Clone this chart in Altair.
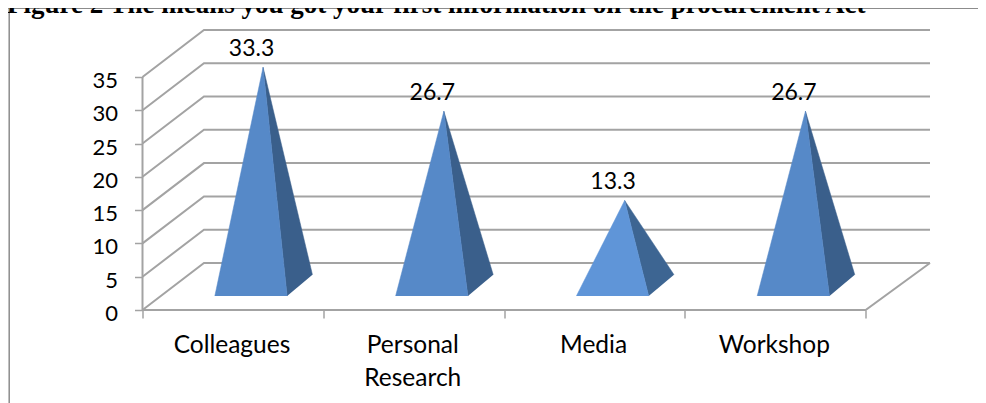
import altair as alt
import pandas as pd

categories = ["Colleagues", "Personal\nResearch", "Media", "Workshop"]
values = [33.3, 26.7, 13.3, 26.7]
value_labels = ["33.3", "26.7", "13.3", "26.7"]
y_ticks = [0, 5, 10, 15, 20, 25, 30, 35]
x_ticks = [0, 1, 2, 3, 4]
title_text = "Figure 2 The means you got your first information on the procurement Act"

# projection of the chart's depth axis, in scale units
DX, DY = 0.34, 7.06
W, H = 787.5, 280
PAD = {"left": 134.5, "top": 22, "right": 48, "bottom": 93}
XMAX, YMAX = 4.356, 42.05

GRID = "#a3a3a3"
FONT = "Lato"
xs = alt.X("x:Q", scale=alt.Scale(domain=[0, XMAX], nice=False, zero=False),
           axis=alt.Axis(values=x_ticks, labels=False, grid=False, domain=False, title=None,
                         tickSize=8, tickColor=GRID, tickWidth=1.5))
ys = alt.Y("y:Q", scale=alt.Scale(domain=[0, YMAX], nice=False, zero=False),
           axis=alt.Axis(values=y_ticks, grid=False, domain=False, title=None, format="d",
                         labelOverlap=False, tickSize=8, tickColor=GRID, tickWidth=1.5,
                         labelFont=FONT, labelFontSize=22, labelColor="#000000",
                         labelPadding=17, labelOffset=3.5))

# wall, floor and axis lines
segs = []
def seg(name, *pts):
    for k, (x, y) in enumerate(pts):
        segs.append({"s": name, "o": k, "x": x, "y": y})
for v in y_ticks:
    seg(f"g{v}", (0, v), (DX, v + DY), (XMAX, v + DY))
seg("front", (0, 0), (4, 0), (XMAX, DY))
seg("axis", (0, 0), (0, 35))
lines = alt.Chart(pd.DataFrame(segs)).mark_line(color=GRID, strokeWidth=2).encode(
    x=xs, y=ys, detail="s:N", order="o:Q")

# pyramids
front, side = [], []
for i, v in enumerate(values):
    ax, ay = i + 0.667, v + 3.15
    for k, (x, y) in enumerate([(i + 0.4, 2.1), (ax, ay), (i + 0.8, 2.1)]):
        front.append({"c": i, "o": k, "x": x, "y": y, "m": i == 2})
    for k, (x, y) in enumerate([(i + 0.8, 2.1), (ax, ay), (i + 0.94, 5.3)]):
        side.append({"c": i, "o": k, "x": x, "y": y, "m": i == 2})

def faces(rows, normal, media):
    df = pd.DataFrame(rows)
    return [
        alt.Chart(df[df.m == flag]).mark_line(fill=col, stroke=col, strokeWidth=0.5).encode(
            x=xs, y=ys, detail="c:N", order="o:Q")
        for flag, col in [(False, normal), (True, media)]
    ]

layers = faces(side, "#3a5f8b", "#3d6592") + faces(front, "#5689c8", "#5f95d8")

# value labels
lab = pd.DataFrame({"x": [i + 0.603 for i in range(4)],
                    "y": [v + 5.9 for v in values], "t": value_labels})
labels = alt.Chart(lab).mark_text(font=FONT, fontSize=23, color="#000000").encode(
    x=xs, y=ys, text="t:N")

# category labels
cat = pd.DataFrame({"x": [i + 0.495 for i in range(4)],
                    "t": [c.split("\n") for c in categories]})
cats = alt.Chart(cat).mark_text(font=FONT, fontSize=24.5, color="#000000", baseline="top",
                                lineHeight=33).encode(
    x=xs, y=alt.value(H + 23.5), text="t:N")

# frame and clipped heading above it
frame_top = alt.Chart(pd.DataFrame({"a": [0]})).mark_rule(color="#8c8c8c", strokeWidth=1.2).encode(
    x=alt.value(-PAD["left"]), x2=alt.value(W + PAD["right"]), y=alt.value(-PAD["top"] + 0.4))
frame_left = alt.Chart(pd.DataFrame({"a": [0]})).mark_rule(color="#8c8c8c", strokeWidth=1.5).encode(
    x=alt.value(-PAD["left"] + 1.2), y=alt.value(-PAD["top"]), y2=alt.value(H + PAD["bottom"]))
heading = alt.Chart(pd.DataFrame({"t": [title_text]})).mark_text(
    font="Liberation Serif", fontWeight="bold", fontSize=27, align="left", baseline="alphabetic",
    color="#000000").encode(x=alt.value(-PAD["left"] - 1), y=alt.value(-PAD["top"] + 5), text="t:N")

chart = alt.layer(frame_top, frame_left, lines, *layers, labels, cats, heading).properties(
    width=W, height=H, padding=PAD, autosize=alt.AutoSizeParams(type="none"),
).configure_view(stroke=None)

chart.save("out.html", embed_options={"renderer": "svg", "actions": False})
